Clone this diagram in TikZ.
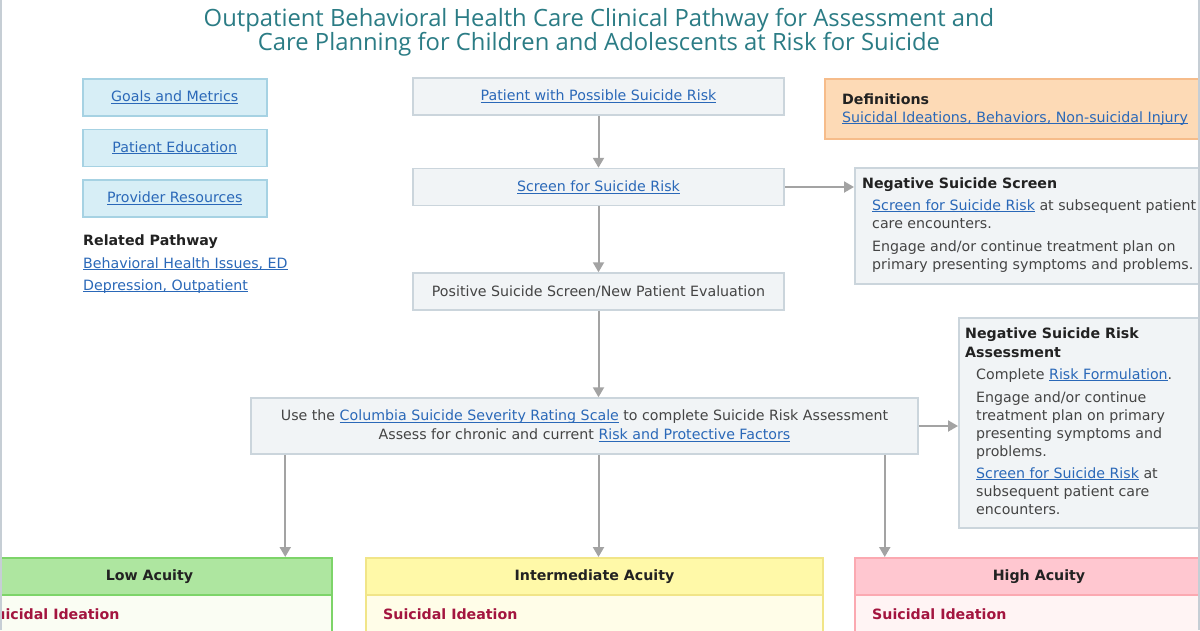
\documentclass[tikz,border=0pt]{standalone}
\usepackage{fontspec}
\setmainfont{DejaVu Sans}
\newfontfamily\titlefont{Open Sans}
\usetikzlibrary{arrows.meta, positioning}
\usepackage{xcolor}
\definecolor{TitleTeal}{HTML}{2B7C85}
\definecolor{LinkBlue}{HTML}{2A68B8}
\definecolor{TextDark}{HTML}{222222}
\definecolor{TextGray}{HTML}{444444}
\definecolor{BoxFill}{HTML}{F1F4F6}
\definecolor{BoxLine}{HTML}{CBD5DC}
\definecolor{LeftFill}{HTML}{D7EEF6}
\definecolor{LeftLine}{HTML}{A6D2E3}
\definecolor{DefFill}{HTML}{FDDAB6}
\definecolor{DefLine}{HTML}{F6BC8A}
\definecolor{ArrowGray}{HTML}{A3A3A3}
\definecolor{FrameGray}{HTML}{C6CED5}
\definecolor{LowHead}{HTML}{AEE6A0}
\definecolor{LowLine}{HTML}{7DD469}
\definecolor{LowBody}{HTML}{FAFDF3}
\definecolor{MidHead}{HTML}{FFF9A8}
\definecolor{MidLine}{HTML}{F1E588}
\definecolor{MidBody}{HTML}{FFFDE8}
\definecolor{HighHead}{HTML}{FFC7D0}
\definecolor{HighLine}{HTML}{FBA9B1}
\definecolor{HighBody}{HTML}{FFF4F4}
\definecolor{Maroon}{HTML}{A3153F}
\newcommand{\bodyfont}{\fontsize{14.2}{18}\selectfont}
\newcommand{\ulink}[1]{\textcolor{LinkBlue}{\setbox0\hbox{#1}\rlap{\rule[-2pt]{\wd0}{0.9pt}}\box0}}

\begin{document}
\begin{tikzpicture}[x=1pt, y=-1pt, node distance=52pt, font=\bodyfont]
    \tikzstyle{gbox} = [rectangle, draw=BoxLine, fill=BoxFill, line width=1.5pt, text=TextGray, minimum width=371pt, minimum height=37pt, inner sep=0pt]
    \tikzstyle{lbox} = [rectangle, draw=LeftLine, fill=LeftFill, line width=1.5pt, minimum width=184pt, minimum height=37pt, inner sep=0pt, anchor=north west]
    \tikzstyle{panel} = [rectangle, draw=BoxLine, fill=BoxFill, line width=1.5pt, inner sep=0pt, anchor=north west]
    \tikzstyle{flow} = [draw=ArrowGray, line width=2pt, -{Triangle[length=10pt, width=11pt]}]
    \tikzstyle{head} = [rectangle, line width=2pt, minimum height=37pt, inner sep=0pt, font=\bodyfont\bfseries, text=TextDark, anchor=north west]
    \tikzstyle{body} = [rectangle, line width=2pt, minimum height=60pt, inner sep=0pt, anchor=north west]
    \tikzstyle{txt} = [anchor=base west, inner sep=0pt, text=TextGray]
    \tikzstyle{bold} = [anchor=base west, inner sep=0pt, text=TextDark, font=\bodyfont\bfseries]
    \tikzstyle{ideation} = [anchor=base west, inner sep=0pt, text=Maroon, font=\bodyfont\bfseries]

    \useasboundingbox (0,0) rectangle (1200,630);
    \clip (0,0) rectangle (1200,630);
    \fill[white] (0,0) rectangle (1200,630);

    % title
    \node [align=center, text=TitleTeal, font=\titlefont\fontsize{23.8}{24}\selectfont] (title) at (599,32)
      {Outpatient Behavioral Health Care Clinical Pathway for Assessment and\\Care Planning for Children and Adolescents at Risk for Suicide};

    % left column
    \node [lbox] (goals) at (82,78) {\ulink{Goals and Metrics}};
    \node [lbox, below=12pt of goals] (edu) {\ulink{Patient Education}};
    \node [lbox, below=12pt of edu] (prov) {\ulink{Provider Resources}};
    \node [bold] (related) at (83,245) {Related Pathway};
    \node [txt] (bhi) at (83,268) {\ulink{Behavioral Health Issues, ED}};
    \node [txt] (dep) at (83,290) {\ulink{Depression, Outpatient}};

    % main flow
    \node [gbox] (patient) at (598.5,96.5) {\ulink{Patient with Possible Suicide Risk}};
    \node [gbox, below=of patient] (screen) {\ulink{Screen for Suicide Risk}};
    \node [gbox, below=66pt of screen] (positive) {Positive Suicide Screen/New Patient Evaluation};
    \node [gbox, minimum width=667pt, minimum height=56pt, align=center] (cssrs) at (584.5,426)
      {Use the \ulink{Columbia Suicide Severity Rating Scale} to complete Suicide Risk Assessment\\[1pt]
       Assess for chronic and current \ulink{Risk and Protective Factors}};

    % definitions
    \node [panel, draw=DefLine, fill=DefFill, minimum width=400pt, minimum height=60pt] (defs) at (824,78) {};
    \node [bold] (defstitle) at (842,104) {Definitions};
    \node [txt] (defslink) at (842,122) {\ulink{Suicidal Ideations, Behaviors, Non-suicidal Injury}};

    % negative screen
    \node [panel, minimum width=360pt, minimum height=116pt] (nss) at (854,167) {};
    \node [bold] (nsstitle) at (862,188.5) {Negative Suicide Screen};
    \node [txt] (nss1) at (872,210) {\ulink{Screen for Suicide Risk} at subsequent patient};
    \node [txt] (nss2) at (872,228) {care encounters.};
    \node [txt] (nss3) at (872,251) {Engage and/or continue treatment plan on};
    \node [txt] (nss4) at (872,269) {primary presenting symptoms and problems.};

    % negative risk assessment
    \node [panel, minimum width=260pt, minimum height=210pt] (nsra) at (958,317) {};
    \node [bold] (nsratitle) at (965,338) {Negative Suicide Risk};
    \node [bold] (nsratitle2) at (965,357) {Assessment};
    \node [txt] (nsra1) at (976,379) {Complete \ulink{Risk Formulation}.};
    \node [txt] (nsra2) at (976,402) {Engage and/or continue};
    \node [txt] (nsra3) at (976,420) {treatment plan on primary};
    \node [txt] (nsra4) at (976,438) {presenting symptoms and};
    \node [txt] (nsra5) at (976,456) {problems.};
    \node [txt] (nsra6) at (976,478) {\ulink{Screen for Suicide Risk} at};
    \node [txt] (nsra7) at (976,496) {subsequent patient care};
    \node [txt] (nsra8) at (976,514) {encounters.};

    % acuity levels
    \node [body, draw=LowLine, fill=LowBody, minimum width=365pt] (lowbody) at (-34,594) {};
    \node [head, draw=LowLine, fill=LowHead, minimum width=365pt] (lowhead) at (-34,557) {Low Acuity};
    \node [ideation] (lowidea) at (-15,619) {Suicidal Ideation};
    \node [body, draw=MidLine, fill=MidBody, minimum width=457pt] (midbody) at (365,594) {};
    \node [head, draw=MidLine, fill=MidHead, minimum width=457pt] (midhead) at (365,557) {Intermediate Acuity};
    \node [ideation] (mididea) at (383,619) {Suicidal Ideation};
    \node [body, draw=HighLine, fill=HighBody, minimum width=368pt] (highbody) at (854,594) {};
    \node [head, draw=HighLine, fill=HighHead, minimum width=368pt] (highhead) at (854,557) {High Acuity};
    \node [ideation] (highidea) at (872,619) {Suicidal Ideation};

    % connectors
    \draw [flow] (patient) -- (screen);
    \draw [flow] (screen) -- (positive);
    \draw [flow] (positive.south) -- (positive.south |- cssrs.north);
    \draw [flow] (screen.east) -- (screen.east -| nss.west);
    \draw [flow] (cssrs.east) -- (cssrs.east -| nsra.west);
    \coordinate (lowtap) at ([xshift=35pt]cssrs.south west);
    \coordinate (midtap) at (cssrs.south -| positive.south);
    \coordinate (hightap) at ([xshift=-34pt]cssrs.south east);
    \draw [flow] (lowtap) -- (lowtap |- lowhead.north);
    \draw [flow] (midtap) -- (midtap |- midhead.north);
    \draw [flow] (hightap) -- (hightap |- highhead.north);

    % page frame
    \draw [FrameGray, line width=2pt] (1,0) -- (1,630);
    \draw [FrameGray, line width=2pt] (1198.5,0) -- (1198.5,630);
\end{tikzpicture}
\end{document}
